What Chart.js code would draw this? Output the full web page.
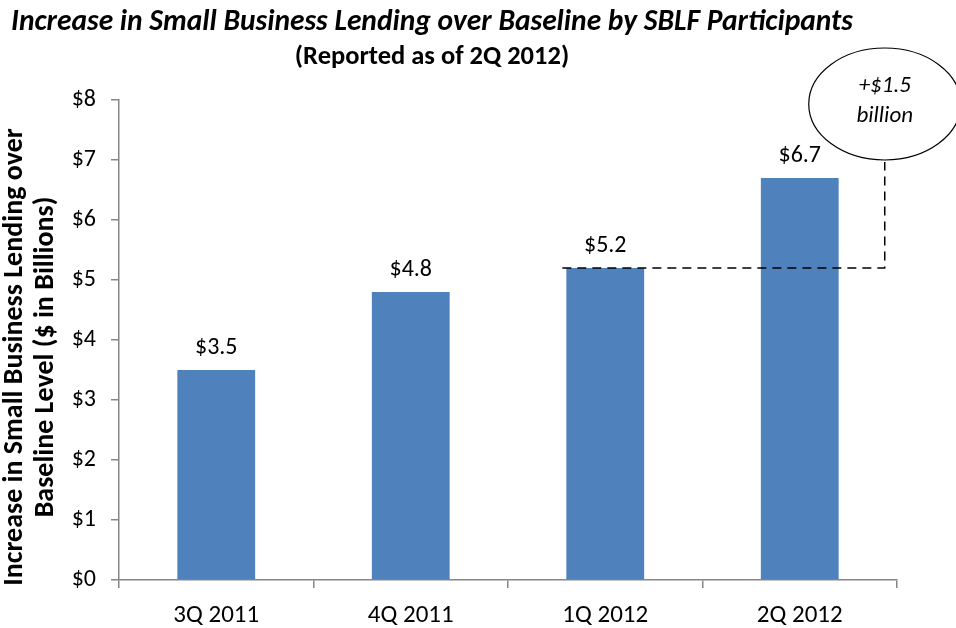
<!DOCTYPE html>
<html>
<head>
<meta charset="utf-8">
<script src="https://cdn.jsdelivr.net/npm/chart.js@4.4.0/dist/chart.umd.min.js"></script>
<style>
  html, body { margin:0; padding:0; background:#fff; }
  #wrap { width:956px; height:628px; position:relative; }
</style>
</head>
<body>
<div id="wrap"><canvas id="c" width="956" height="628"></canvas></div>
<script>
// ── Data ──────────────────────────────────────────────────
const quarters = ['3Q 2011','4Q 2011','1Q 2012','2Q 2012'];
const lending  = [3.5, 4.8, 5.2, 6.7];
const yTicks   = [0,1,2,3,4,5,6,7,8];
const calloutText = ['+$1.5','billion'];

const FONT = 'Carlito, Lato, "Open Sans", sans-serif';
const BAR = '#4F81BD';
const AXIS = '#868686';

// ── Custom drawing: titles, value labels, callout ─────────
const extras = {
  id:'extras',
  afterDatasetsDraw(chart) {
    const {ctx} = chart;
    const y = chart.scales.y;
    const meta = chart.getDatasetMeta(0);
    ctx.save();

    // titles
    ctx.fillStyle = '#000';
    ctx.textAlign = 'center';
    ctx.textBaseline = 'middle';
    ctx.font = 'italic bold 29.5px ' + FONT;
    ctx.fillText('Increase in Small Business Lending over Baseline by SBLF Participants', 432, 23);
    ctx.font = 'bold 26.5px ' + FONT;
    ctx.fillText('(Reported as of 2Q 2012)', 432, 57);

    // y-axis title
    ctx.save();
    ctx.translate(15, 357);
    ctx.rotate(-Math.PI/2);
    ctx.font = 'bold 28px ' + FONT;
    ctx.fillText('Increase in Small Business Lending over', 0, 0);
    ctx.fillText('Baseline Level ($ in Billions)', 0, 31);
    ctx.restore();

    // value labels
    ctx.font = '24px ' + FONT;
    ctx.textBaseline = 'alphabetic';
    meta.data.forEach((bar, i) => {
      ctx.fillText('$' + lending[i].toFixed(1), bar.x, bar.y - 16);
    });

    // dashed connector from 1Q 2012 level to callout
    const b3 = meta.data[2], b4 = meta.data[3];
    const yLevel = y.getPixelForValue(lending[2]);
    const xRight = b4.x + (b4.x - b3.x) * 0.437;
    const cx = xRight, cy = 104, rx = 76, ry = 56;
    ctx.strokeStyle = '#000';
    ctx.lineWidth = 1.5;
    ctx.setLineDash([9, 6]);
    ctx.beginPath();
    ctx.moveTo(b3.x - b3.width/2 - 4, yLevel);
    ctx.lineTo(xRight, yLevel);
    ctx.lineTo(xRight, cy + ry + 2);
    ctx.stroke();
    ctx.setLineDash([]);

    // callout ellipse
    ctx.lineWidth = 1.2;
    ctx.beginPath();
    ctx.ellipse(cx, cy, rx, ry, 0, 0, Math.PI*2);
    ctx.fillStyle = '#fff';
    ctx.fill();
    ctx.stroke();
    ctx.fillStyle = '#000';
    ctx.font = 'italic 23px ' + FONT;
    ctx.textBaseline = 'middle';
    ctx.fillText(calloutText[0], cx, cy - 18);
    ctx.fillText(calloutText[1], cx, cy + 12);

    ctx.restore();
  }
};

// ── Chart ─────────────────────────────────────────────────
new Chart(document.getElementById('c'), {
  type:'bar',
  data:{ labels:quarters, datasets:[{
    data:lending, backgroundColor:BAR, borderWidth:0,
    categoryPercentage:1, barPercentage:0.4
  }]},
  options:{
    responsive:false, animation:false,
    layout:{ padding:{ top:100, right:59, left:0, bottom:0 } },
    plugins:{ legend:{display:false}, tooltip:{enabled:false}, title:{display:false} },
    scales:{
      x:{
        grid:{ display:true, drawOnChartArea:false, drawTicks:true, tickLength:8, color:AXIS, lineWidth:1.5, offset:true },
        border:{ color:AXIS, width:1.5 },
        ticks:{ color:'#000', font:{ family:FONT, size:25 }, padding:13, maxRotation:0 },
        afterFit: s => { s.height = 48; }
      },
      y:{
        min:0, max:8,
        afterBuildTicks: s => { s.ticks = yTicks.map(v => ({value:v})); },
        grid:{ display:true, drawOnChartArea:false, drawTicks:true, tickLength:8, color:AXIS, lineWidth:1.5 },
        border:{ color:AXIS, width:1.5 },
        ticks:{ color:'#000', font:{ family:FONT, size:24 }, padding:15, callback:v => '$' + v },
        afterFit: s => { s.width = 119; }
      }
    }
  },
  plugins:[extras]
});
</script>
</body>
</html>
